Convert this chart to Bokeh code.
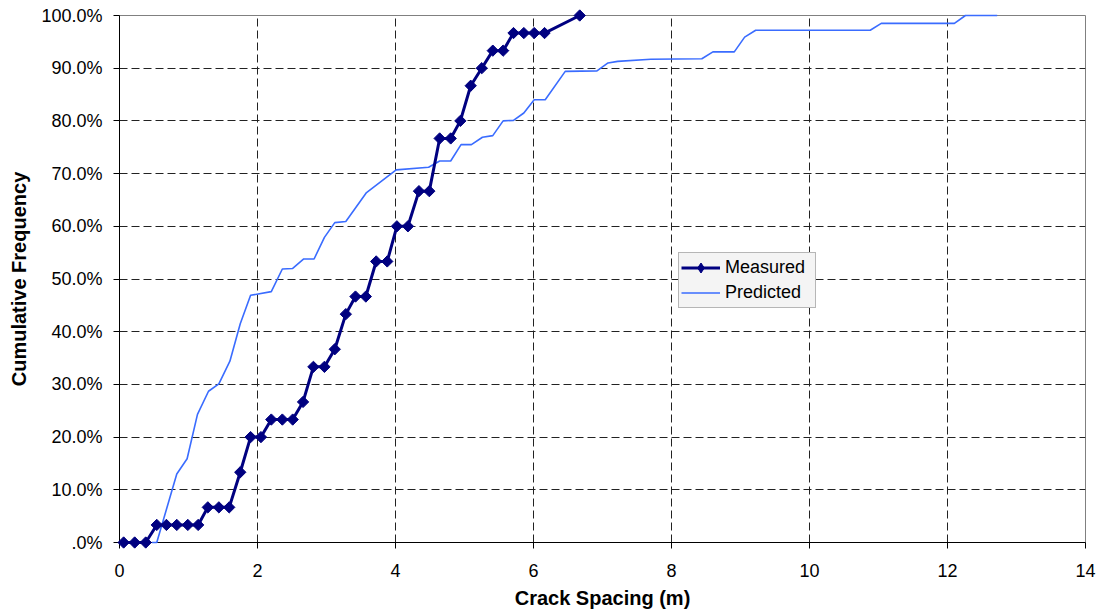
import math
from bokeh.plotting import figure
from bokeh.models import Range1d, FixedTicker, CustomJSTickFormatter, Legend, LegendItem
from bokeh.embed import file_html
from bokeh.resources import INLINE

# ---- data ----
meas_x = [0.06, 0.22, 0.38, 0.54, 0.68, 0.83, 0.99, 1.14, 1.28, 1.44, 1.59, 1.75, 1.90, 2.05,
          2.20, 2.36, 2.51, 2.66, 2.81, 2.97, 3.12, 3.28, 3.42, 3.57, 3.72, 3.88, 4.02, 4.18,
          4.34, 4.49, 4.64, 4.80, 4.94, 5.09, 5.25, 5.41, 5.56, 5.71, 5.86, 6.01, 6.16, 6.67]
meas_y = [0, 0, 0, 3.33, 3.33, 3.33, 3.33, 3.33, 6.67, 6.67, 6.67, 13.33, 20, 20,
          23.33, 23.33, 23.33, 26.67, 33.33, 33.33, 36.67, 43.33, 46.67, 46.67, 53.33, 53.33, 60, 60,
          66.67, 66.67, 76.67, 76.67, 80, 86.67, 90, 93.33, 93.33, 96.67, 96.67, 96.67, 96.67, 100]

pred_x = [0.47, 0.54, 0.83, 0.98, 1.13, 1.29, 1.44, 1.60, 1.75, 1.90, 2.20, 2.36, 2.51, 2.67,
          2.82, 2.97, 3.12, 3.28, 3.58, 4.01, 4.48, 4.64, 4.80, 4.95, 5.10, 5.26, 5.41, 5.56,
          5.71, 5.86, 6.01, 6.17, 6.46, 6.92, 7.08, 7.22, 7.70, 8.44, 8.60, 8.91, 9.06, 9.22,
          10.88, 11.04, 12.10, 12.26, 12.72]
pred_y = [0, 0, 13.0, 15.9, 24.3, 28.7, 30.1, 34.4, 41.5, 46.9, 47.6, 51.9, 52.0, 53.8,
          53.8, 57.9, 60.7, 60.9, 66.4, 70.7, 71.2, 72.4, 72.4, 75.5, 75.5, 76.9, 77.2, 80.0,
          80.1, 81.5, 84.0, 84.0, 89.4, 89.5, 91.0, 91.3, 91.7, 91.8, 93.1, 93.1, 95.9, 97.2,
          97.2, 98.5, 98.5, 100, 100]

x_ticks = [0, 2, 4, 6, 8, 10, 12, 14]
y_ticks = [0, 10, 20, 30, 40, 50, 60, 70, 80, 90, 100]

x_title = "Crack Spacing (m)"
y_title = "Cumulative Frequency"
series_names = ["Measured", "Predicted"]

FONT = "Liberation Sans"
NAVY = "#000080"
BLUE = "#3a6cff"

p = figure(width=1096, height=614, output_backend="svg", toolbar_location=None,
           x_range=Range1d(0, 14), y_range=Range1d(0, 100),
           min_border_left=119, min_border_right=11, min_border_top=15, min_border_bottom=72)
p.background_fill_color = "white"
p.border_fill_color = "white"
p.outline_line_color = "#808080"
p.outline_line_width = 1

p.xaxis.ticker = FixedTicker(ticks=x_ticks)
p.yaxis.ticker = FixedTicker(ticks=y_ticks)
p.yaxis.formatter = CustomJSTickFormatter(code="return tick == 0 ? '.0%' : tick.toFixed(1) + '%';")

p.axis.minor_tick_line_color = None
p.axis.major_tick_in = 0
p.axis.major_tick_out = 6
p.axis.axis_line_color = "#000000"
p.axis.major_tick_line_color = "#000000"
p.axis.major_label_text_font = FONT
p.axis.major_label_text_font_size = "18px"
p.axis.major_label_text_color = "#000000"
p.axis.axis_label_text_font = FONT
p.axis.axis_label_text_font_size = "20px"
p.axis.axis_label_text_font_style = "bold"
p.axis.axis_label_text_color = "#000000"
p.xaxis.axis_label = x_title
p.yaxis.axis_label = y_title
p.xaxis.major_label_standoff = 15
p.yaxis.major_label_standoff = 11
p.xaxis.axis_label_standoff = 7
p.yaxis.axis_label_standoff = 8

p.grid.grid_line_color = "#222222"
p.grid.grid_line_dash = "8 4"
p.grid.grid_line_width = 1

r_pred = p.line(pred_x, pred_y, line_color=BLUE, line_width=1.6)
r_meas_l = p.line(meas_x, meas_y, line_color=NAVY, line_width=3)
r_meas_m = p.scatter(meas_x, meas_y, marker="square", size=8, angle=math.pi / 4,
                     fill_color=NAVY, line_color=NAVY)
for r in (r_pred, r_meas_l, r_meas_m):
    r.level = "overlay"

# legend-only key glyph (not plotted: NaN position); the legend would draw the
# rotated-square markers above unrotated
nan = float("nan")
r_key = p.scatter(x=[nan], y=[nan], marker="diamond", size=12, fill_color=NAVY, line_color=NAVY)

legend = Legend(items=[LegendItem(label=series_names[0], renderers=[r_meas_l, r_key]),
                       LegendItem(label=series_names[1], renderers=[r_pred])],
                location=(559, 234))
legend.label_text_font = FONT
legend.label_text_font_size = "18px"
legend.label_text_color = "#000000"
legend.glyph_width = 39
legend.glyph_height = 25
legend.label_height = 25
legend.label_width = 88
legend.label_standoff = 5
legend.padding = 2
legend.spacing = 0
legend.margin = 0
legend.border_line_color = "#777777"
legend.border_line_width = 1
legend.background_fill_color = "#f4f4f4"
legend.background_fill_alpha = 1
p.add_layout(legend)

open("out.html", "w").write(file_html(p, INLINE))
